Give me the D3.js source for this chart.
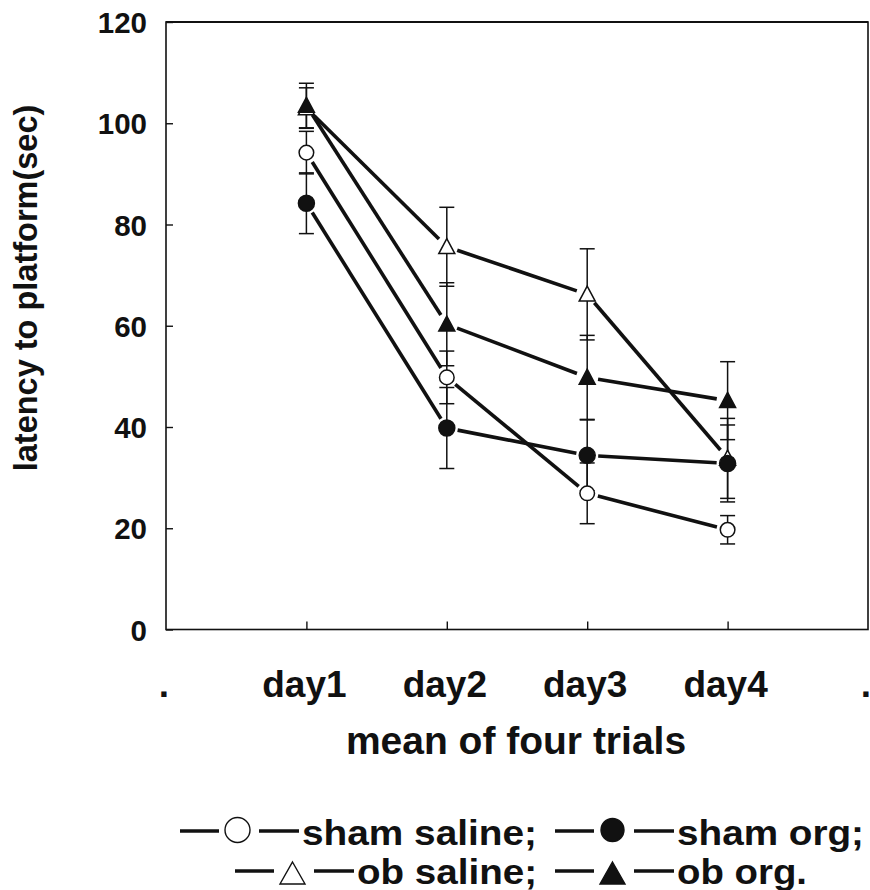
<!DOCTYPE html>
<html>
<head>
<meta charset="utf-8">
<script src="https://cdn.jsdelivr.net/npm/d3@7/dist/d3.min.js"></script>
<style>
  html, body { margin: 0; padding: 0; background: #fff; }
  text { font-family: "Liberation Sans", Arial, Helvetica, sans-serif; font-weight: bold; fill: #111; }
</style>
</head>
<body>
<svg id="chart" width="870" height="890"></svg>
<script>
// ---- data ----
const days = [1, 2, 3, 4];
const xTickValues = [0, 1, 2, 3, 4, 5];
const xTickLabels = [".", "day1", "day2", "day3", "day4", "."];
const yTickValues = [0, 20, 40, 60, 80, 100, 120];

const seriesNames = ["ob saline", "sham saline", "sham org", "ob org"];
const obSaline      = [103.0, 75.6, 66.2, 33.8];
const obSalineSE    = [4.0, 7.8, 9.0, 7.9];
const shamSaline    = [94.2, 49.8, 26.9, 19.7];
const shamSalineSE  = [4.2, 5.2, 6.0, 2.8];
const shamOrg       = [84.2, 39.8, 34.4, 32.8];
const shamOrgSE     = [6.0, 8.0, 7.0, 7.6];
const obOrg         = [103.5, 60.3, 49.8, 45.2];
const obOrgSE       = [4.4, 8.2, 8.3, 7.7];

const legendRows = [
  [{name: "sham saline;", shape: "circle", filled: false}, {name: "sham org;", shape: "circle", filled: true}],
  [{name: "ob saline;", shape: "triangle", filled: false}, {name: "ob org.", shape: "triangle", filled: true}]
];
const legendTextWidths = [[235, 187], [180, 130]];

const series = [
  {name: seriesNames[0], values: obSaline, se: obSalineSE, shape: "triangle", filled: false},
  {name: seriesNames[1], values: shamSaline, se: shamSalineSE, shape: "circle", filled: false},
  {name: seriesNames[2], values: shamOrg, se: shamOrgSE, shape: "circle", filled: true},
  {name: seriesNames[3], values: obOrg, se: obOrgSE, shape: "triangle", filled: true}
];

// ---- layout ----
const svg = d3.select("#chart");
svg.append("rect").attr("width", 870).attr("height", 890).attr("fill", "#fff");

const x = d3.scaleLinear().domain([0, 5]).range([166, 868]);
const y = d3.scaleLinear().domain([0, 120]).range([629.5, 22]);
const ink = "#111";

// frame
svg.append("rect")
  .attr("x", x(0)).attr("y", y(120))
  .attr("width", x(5) - x(0)).attr("height", y(0) - y(120))
  .attr("fill", "none").attr("stroke", ink).attr("stroke-width", 1.6);
svg.append("line").attr("x1", x(0)).attr("x2", x(5)).attr("y1", y(120)).attr("y2", y(120))
  .attr("stroke", ink).attr("stroke-width", 2.2);

// y axis (ticks inward)
const yAxis = d3.axisRight(y).tickValues(yTickValues).tickSize(7).tickFormat("");
const gy = svg.append("g").attr("transform", `translate(${x(0)},0)`).call(yAxis);
gy.select(".domain").remove();
gy.selectAll(".tick line").attr("stroke", ink).attr("stroke-width", 1.4);

svg.append("g").selectAll("text").data(yTickValues).join("text")
  .attr("x", 147).attr("y", d => y(d) + 11)
  .attr("text-anchor", "end").attr("font-size", 29.5)
  .text(d => d);

// x axis (ticks inward)
const xAxis = d3.axisTop(x).tickValues(days).tickSize(8).tickFormat("");
const gx = svg.append("g").attr("transform", `translate(0,${y(0)})`).call(xAxis);
gx.select(".domain").remove();
gx.selectAll(".tick line").attr("stroke", ink).attr("stroke-width", 1.4);

svg.append("g").selectAll("text").data(xTickValues).join("text")
  .attr("x", d => x(d) - 2).attr("y", 697)
  .attr("text-anchor", "middle").attr("font-size", 37)
  .text((d, i) => xTickLabels[i]);

// axis titles
svg.append("text").attr("x", 516).attr("y", 754)
  .attr("text-anchor", "middle").attr("font-size", 39)
  .text("mean of four trials");

svg.append("text")
  .attr("transform", "translate(37,288) rotate(-90)")
  .attr("text-anchor", "middle").attr("font-size", 32.5)
  .text("latency to platform(sec)");

// ---- marks ----
const gErr = svg.append("g");
const gLines = svg.append("g");
const gMarks = svg.append("g");
const capW = 15;
const gap = 11;

function tri(cx, cy, w, h) {
  return `M${cx},${cy - h * 0.55}L${cx + w / 2},${cy + h * 0.45}L${cx - w / 2},${cy + h * 0.45}Z`;
}

series.forEach(s => {
  const pts = days.map((d, i) => ({d, v: s.values[i], e: s.se[i]}));

  // error bars
  pts.forEach(p => {
    const cx = x(p.d), y1 = y(p.v + p.e), y2 = y(p.v - p.e);
    gErr.append("line").attr("x1", cx).attr("x2", cx).attr("y1", y1).attr("y2", y2)
      .attr("stroke", ink).attr("stroke-width", 1.5);
    [y1, y2].forEach(yy => gErr.append("line")
      .attr("x1", cx - capW / 2).attr("x2", cx + capW / 2).attr("y1", yy).attr("y2", yy)
      .attr("stroke", ink).attr("stroke-width", 1.5));
  });

  // connecting segments, trimmed near markers
  for (let i = 0; i < pts.length - 1; i++) {
    const ax = x(pts[i].d), ay = y(pts[i].v), bx = x(pts[i + 1].d), by = y(pts[i + 1].v);
    const len = Math.hypot(bx - ax, by - ay), ux = (bx - ax) / len, uy = (by - ay) / len;
    gLines.append("line")
      .attr("x1", ax + ux * gap).attr("y1", ay + uy * gap)
      .attr("x2", bx - ux * gap).attr("y2", by - uy * gap)
      .attr("stroke", ink).attr("stroke-width", 3.6).attr("stroke-linecap", "butt");
  }

  // markers
  pts.forEach(p => {
    const cx = x(p.d), cy = y(p.v);
    if (s.shape === "circle") {
      gMarks.append("circle").attr("cx", cx).attr("cy", cy).attr("r", s.filled ? 8 : 7.3)
        .attr("fill", s.filled ? ink : "#fff").attr("stroke", ink).attr("stroke-width", 1.5);
    } else {
      gMarks.append("path").attr("d", tri(cx, cy, 16, 15))
        .attr("fill", s.filled ? ink : "#fff").attr("stroke", ink).attr("stroke-width", 1.5)
        .attr("stroke-linejoin", "miter");
    }
  });
});

// ---- legend ----
const legendStart = [180, 235];
const legendDash = [831, 871];
const legendBase = [845, 884];
const gLeg = svg.append("g");
legendRows.forEach((row, r) => {
  let cx = legendStart[r];
  const yy = legendDash[r];
  row.forEach((item, k) => {
    gLeg.append("line").attr("x1", cx).attr("x2", cx + 39).attr("y1", yy).attr("y2", yy)
      .attr("stroke", ink).attr("stroke-width", 3.4);
    cx += 39 + 6;
    const sx = cx + 12.5;
    if (item.shape === "circle") {
      gLeg.append("circle").attr("cx", sx).attr("cy", yy - 1).attr("r", item.filled ? 11.5 : 12.5)
        .attr("fill", item.filled ? ink : "#fff").attr("stroke", ink).attr("stroke-width", 1.4);
    } else {
      gLeg.append("path").attr("d", `M${sx},${yy - 9}L${sx + 12.5},${yy + 13}L${sx - 12.5},${yy + 13}Z`)
        .attr("fill", item.filled ? ink : "#fff").attr("stroke", ink).attr("stroke-width", 1.4);
    }
    cx += 25 + 9;
    gLeg.append("line").attr("x1", cx).attr("x2", cx + 40).attr("y1", yy).attr("y2", yy)
      .attr("stroke", ink).attr("stroke-width", 3.4);
    cx += 40 + 3;
    const w = legendTextWidths[r][k];
    gLeg.append("text").attr("x", cx).attr("y", legendBase[r])
      .attr("font-size", 34.5)
      .attr("textLength", w).attr("lengthAdjust", "spacingAndGlyphs")
      .text(item.name);
    cx += w + 18;
  });
});
</script>
</body>
</html>
